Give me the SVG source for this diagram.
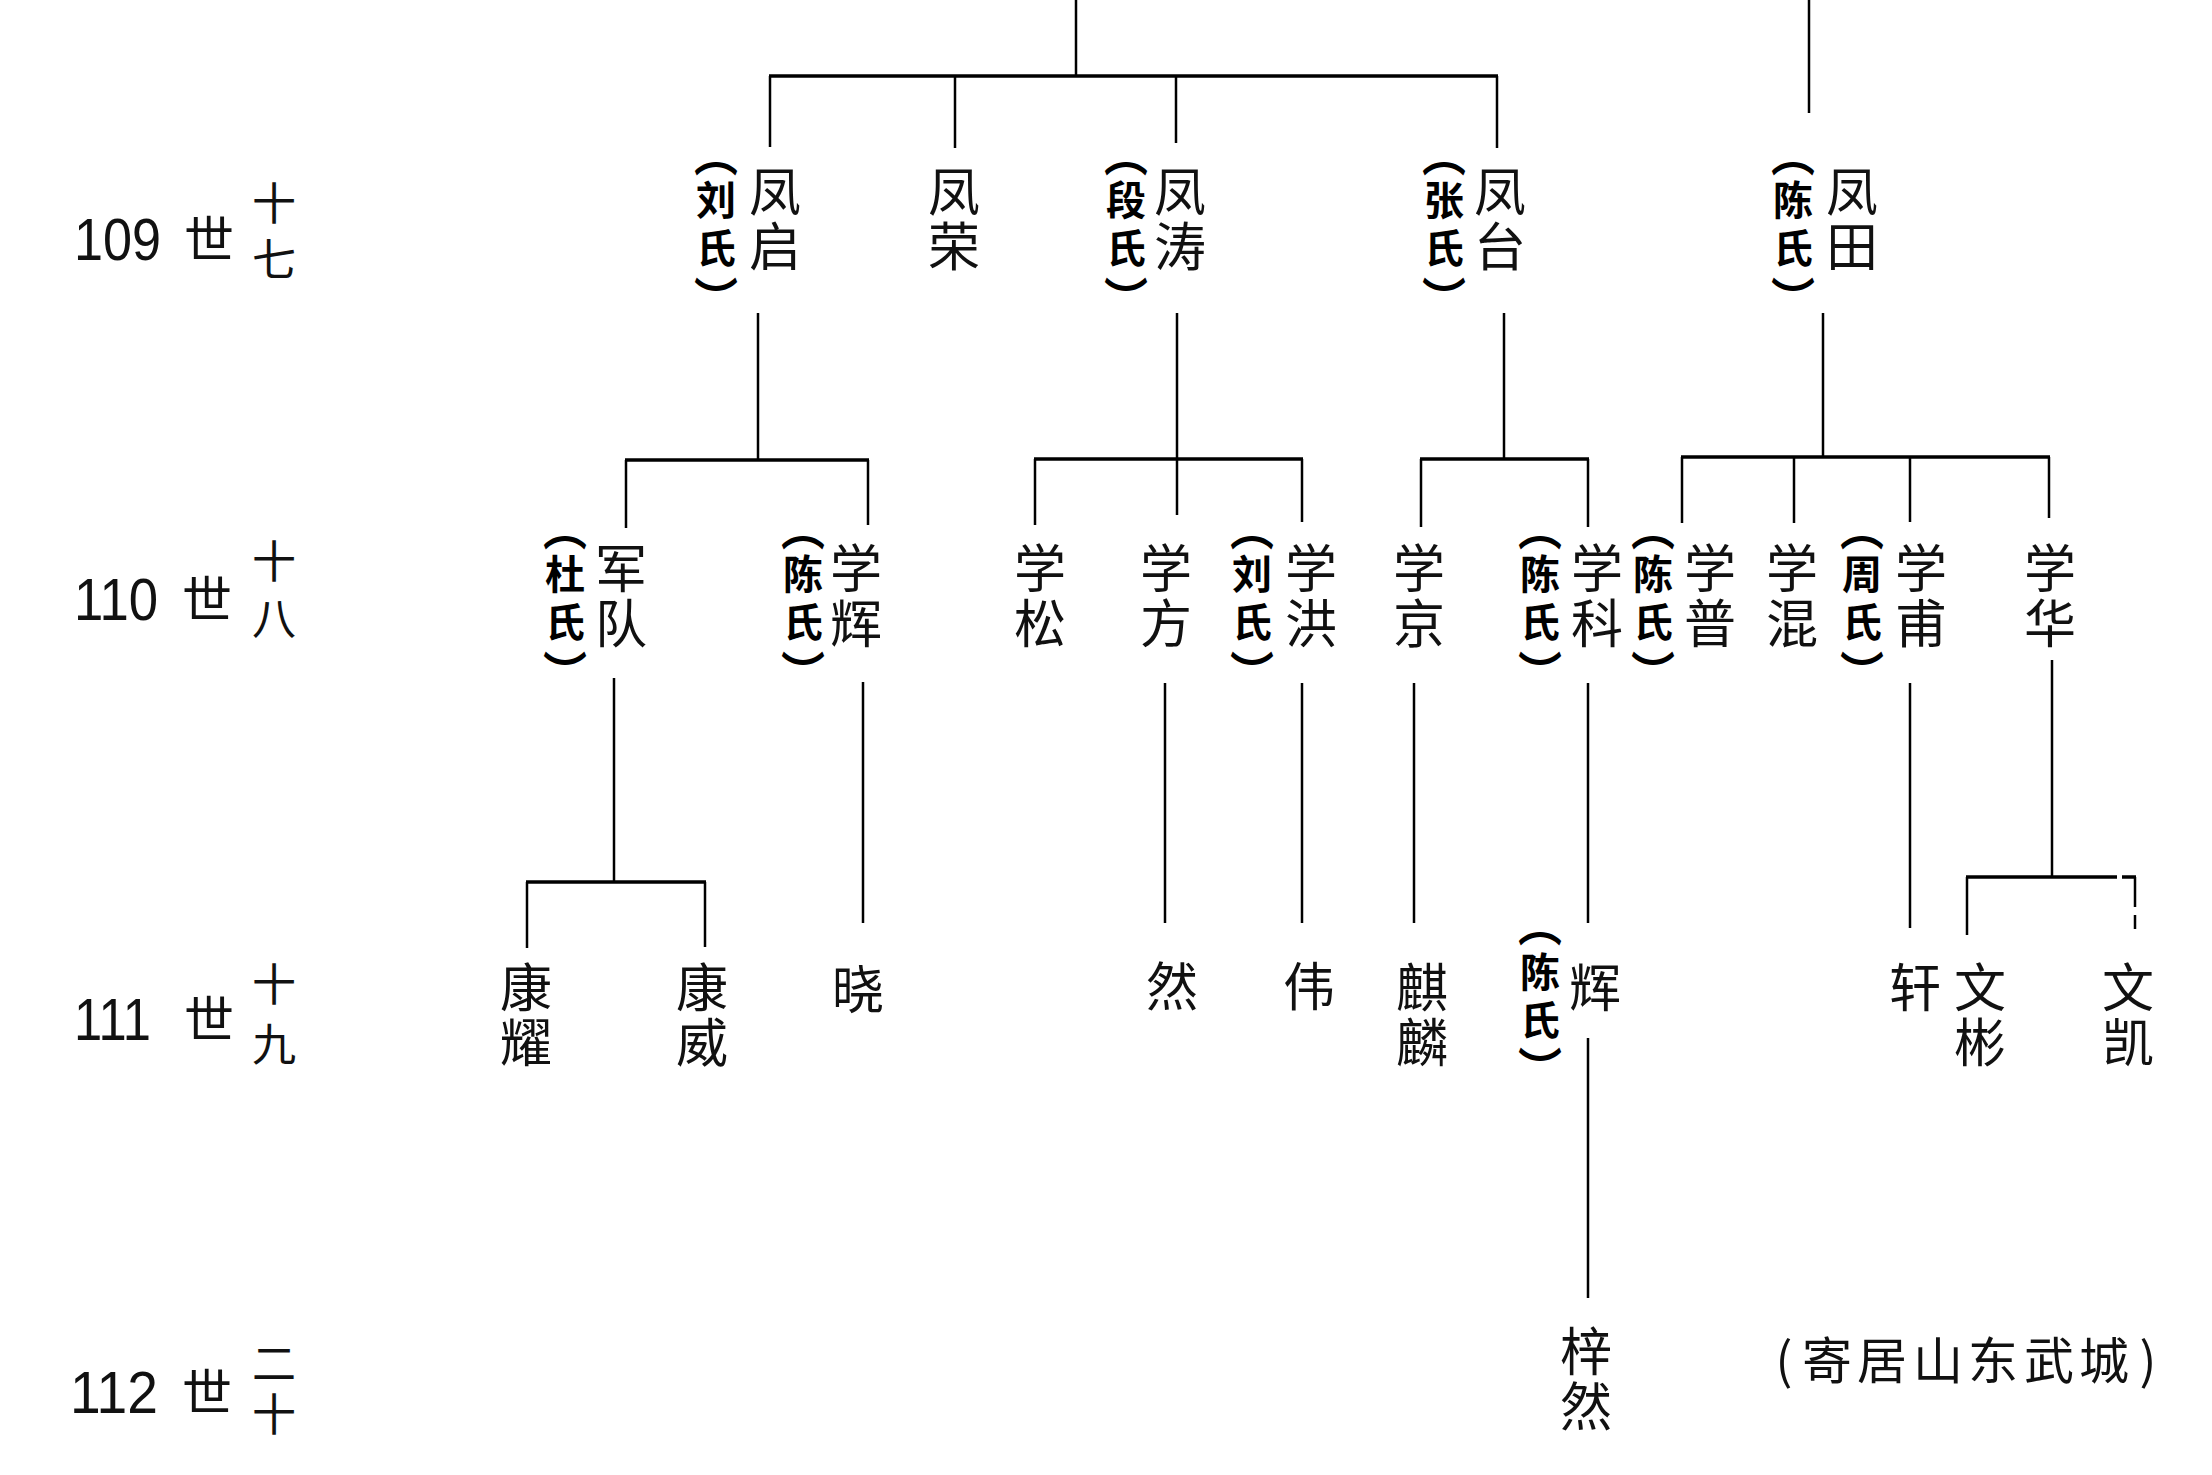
<svg xmlns="http://www.w3.org/2000/svg" width="2212" height="1475" viewBox="0 0 2212 1475">
<style>
.nm{font-family:"Noto Sans CJK SC","Noto Sans CJK TC",sans-serif;font-size:52px;text-anchor:middle;fill:#111}
.sp{font-family:"Noto Sans CJK SC",sans-serif;font-size:40px;font-weight:700;text-anchor:middle;fill:#000}
.br{font-family:"Noto Sans CJK SC",sans-serif;font-size:44px;font-weight:700;text-anchor:middle;fill:#000}
.gen{font-family:"Liberation Sans",Arial,sans-serif;font-size:60px;fill:#111}
.shi{font-family:"Noto Sans CJK SC",sans-serif;font-size:50px;fill:#111}
.ord{font-family:"Noto Sans CJK SC",sans-serif;font-size:44px;text-anchor:middle;fill:#111}
.note{font-family:"Noto Sans CJK SC",sans-serif;font-size:50px;text-anchor:middle;fill:#111}
.ln{stroke:#000;stroke-width:2.5;fill:none}
.bar{stroke:#000;stroke-width:3.5;fill:none}
</style>
<rect width="2212" height="1475" fill="#fff"/>

<g id="gen-labels">
  <g id="gen-109"><text class="gen" x="74" y="260" textLength="87" lengthAdjust="spacingAndGlyphs">109</text><text class="shi" x="184" y="258">世</text><text class="ord"><tspan x="274" y="220">十</tspan><tspan x="274" y="276">七</tspan></text></g>
  <g id="gen-110"><text class="gen" x="74" y="620" textLength="84" lengthAdjust="spacingAndGlyphs">110</text><text class="shi" x="182" y="618">世</text><text class="ord"><tspan x="274" y="578">十</tspan><tspan x="274" y="635">八</tspan></text></g>
  <g id="gen-111"><text class="gen" x="74" y="1040" textLength="77" lengthAdjust="spacingAndGlyphs">111</text><text class="shi" x="184" y="1038">世</text><text class="ord"><tspan x="274" y="1001">十</tspan><tspan x="274" y="1061">九</tspan></text></g>
  <g id="gen-112"><text class="gen" x="70" y="1413" textLength="88" lengthAdjust="spacingAndGlyphs">112</text><text class="shi" x="182" y="1411">世</text><text class="ord"><tspan x="274" y="1380">二</tspan><tspan x="274" y="1431">十</tspan></text></g>
</g>

<g id="connectors">
  <line class="ln" x1="1076" y1="0" x2="1076" y2="76"/>
  <line class="bar" x1="769" y1="76" x2="1498" y2="76"/>
  <line class="ln" x1="770" y1="76" x2="770" y2="147"/>
  <line class="ln" x1="955" y1="76" x2="955" y2="148"/>
  <line class="ln" x1="1176" y1="76" x2="1176" y2="143"/>
  <line class="ln" x1="1497" y1="76" x2="1497" y2="148"/>
  <line class="ln" x1="1809" y1="0" x2="1809" y2="113"/>

  <line class="ln" x1="758" y1="313" x2="758" y2="460"/>
  <line class="bar" x1="625" y1="460" x2="869" y2="460"/>
  <line class="ln" x1="626" y1="460" x2="626" y2="528"/>
  <line class="ln" x1="868" y1="460" x2="868" y2="525"/>

  <line class="ln" x1="1177" y1="313" x2="1177" y2="515"/>
  <line class="bar" x1="1034" y1="459" x2="1303" y2="459"/>
  <line class="ln" x1="1035" y1="459" x2="1035" y2="525"/>
  <line class="ln" x1="1302" y1="459" x2="1302" y2="522"/>

  <line class="ln" x1="1504" y1="313" x2="1504" y2="459"/>
  <line class="bar" x1="1420" y1="459" x2="1589" y2="459"/>
  <line class="ln" x1="1421" y1="459" x2="1421" y2="527"/>
  <line class="ln" x1="1588" y1="459" x2="1588" y2="527"/>

  <line class="ln" x1="1823" y1="313" x2="1823" y2="457"/>
  <line class="bar" x1="1681" y1="457" x2="2050" y2="457"/>
  <line class="ln" x1="1682" y1="457" x2="1682" y2="523"/>
  <line class="ln" x1="1794" y1="457" x2="1794" y2="523"/>
  <line class="ln" x1="1910" y1="457" x2="1910" y2="522"/>
  <line class="ln" x1="2049" y1="457" x2="2049" y2="518"/>

  <line class="ln" x1="614" y1="678" x2="614" y2="882"/>
  <line class="bar" x1="526" y1="882" x2="706" y2="882"/>
  <line class="ln" x1="527" y1="882" x2="527" y2="948"/>
  <line class="ln" x1="705" y1="882" x2="705" y2="947"/>
  <line class="ln" x1="863" y1="682" x2="863" y2="923"/>
  <line class="ln" x1="1165" y1="683" x2="1165" y2="923"/>
  <line class="ln" x1="1302" y1="683" x2="1302" y2="923"/>
  <line class="ln" x1="1414" y1="683" x2="1414" y2="923"/>
  <line class="ln" x1="1588" y1="683" x2="1588" y2="923"/>
  <line class="ln" x1="1910" y1="683" x2="1910" y2="928"/>
  <line class="ln" x1="2052" y1="660" x2="2052" y2="877"/>
  <line class="bar" x1="1966" y1="877" x2="2117" y2="877"/>
  <line class="bar" x1="2122" y1="877" x2="2136" y2="877"/>
  <line class="ln" x1="1967" y1="877" x2="1967" y2="935"/>
  <line class="ln" x1="2135" y1="877" x2="2135" y2="907"/>
  <line class="ln" x1="2135" y1="915" x2="2135" y2="929"/>

  <line class="ln" x1="1588" y1="1038" x2="1588" y2="1298"/>
</g>

<g id="node-fengqi"><text class="br" x="716" y="172">︵</text><text class="sp"><tspan x="716" y="215">刘</tspan><tspan x="716" y="263">氏</tspan></text><text class="br" x="716" y="315">︶</text><text class="nm"><tspan x="775" y="211">凤</tspan><tspan x="775" y="266">启</tspan></text></g>
<g id="node-fengrong"><text class="nm"><tspan x="954" y="211">凤</tspan><tspan x="954" y="266">荣</tspan></text></g>
<g id="node-fengtao"><text class="br" x="1126" y="172">︵</text><text class="sp"><tspan x="1126" y="215">段</tspan><tspan x="1126" y="263">氏</tspan></text><text class="br" x="1126" y="315">︶</text><text class="nm"><tspan x="1180" y="211">凤</tspan><tspan x="1180" y="266">涛</tspan></text></g>
<g id="node-fengtai"><text class="br" x="1444" y="172">︵</text><text class="sp"><tspan x="1444" y="215">张</tspan><tspan x="1444" y="263">氏</tspan></text><text class="br" x="1444" y="315">︶</text><text class="nm"><tspan x="1500" y="211">凤</tspan><tspan x="1500" y="266">台</tspan></text></g>
<g id="node-fengtian"><text class="br" x="1793" y="172">︵</text><text class="sp"><tspan x="1793" y="215">陈</tspan><tspan x="1793" y="263">氏</tspan></text><text class="br" x="1793" y="315">︶</text><text class="nm"><tspan x="1852" y="211">凤</tspan><tspan x="1852" y="266">田</tspan></text></g>

<g id="node-jundui"><text class="br" x="565" y="546">︵</text><text class="sp"><tspan x="565" y="589">杜</tspan><tspan x="565" y="637">氏</tspan></text><text class="br" x="565" y="689">︶</text><text class="nm"><tspan x="621" y="588">军</tspan><tspan x="621" y="643">队</tspan></text></g>
<g id="node-xuehui"><text class="br" x="803" y="546">︵</text><text class="sp"><tspan x="803" y="589">陈</tspan><tspan x="803" y="637">氏</tspan></text><text class="br" x="803" y="689">︶</text><text class="nm"><tspan x="856" y="588">学</tspan><tspan x="856" y="643">辉</tspan></text></g>
<g id="node-xuesong"><text class="nm"><tspan x="1040" y="588">学</tspan><tspan x="1040" y="643">松</tspan></text></g>
<g id="node-xuefang"><text class="nm"><tspan x="1166" y="588">学</tspan><tspan x="1166" y="643">方</tspan></text></g>
<g id="node-xuehong"><text class="br" x="1252" y="546">︵</text><text class="sp"><tspan x="1252" y="589">刘</tspan><tspan x="1252" y="637">氏</tspan></text><text class="br" x="1252" y="689">︶</text><text class="nm"><tspan x="1311" y="588">学</tspan><tspan x="1311" y="643">洪</tspan></text></g>
<g id="node-xuejing"><text class="nm"><tspan x="1419" y="588">学</tspan><tspan x="1419" y="643">京</tspan></text></g>
<g id="node-xueke"><text class="br" x="1540" y="546">︵</text><text class="sp"><tspan x="1540" y="589">陈</tspan><tspan x="1540" y="637">氏</tspan></text><text class="br" x="1540" y="689">︶</text><text class="nm"><tspan x="1597" y="588">学</tspan><tspan x="1597" y="643">科</tspan></text></g>
<g id="node-xuepu"><text class="br" x="1653" y="546">︵</text><text class="sp"><tspan x="1653" y="589">陈</tspan><tspan x="1653" y="637">氏</tspan></text><text class="br" x="1653" y="689">︶</text><text class="nm"><tspan x="1710" y="588">学</tspan><tspan x="1710" y="643">普</tspan></text></g>
<g id="node-xuehun"><text class="nm"><tspan x="1792" y="588">学</tspan><tspan x="1792" y="643">混</tspan></text></g>
<g id="node-xuefu"><text class="br" x="1862" y="546">︵</text><text class="sp"><tspan x="1862" y="589">周</tspan><tspan x="1862" y="637">氏</tspan></text><text class="br" x="1862" y="689">︶</text><text class="nm"><tspan x="1921" y="588">学</tspan><tspan x="1921" y="643">甫</tspan></text></g>
<g id="node-xuehua"><text class="nm"><tspan x="2050" y="588">学</tspan><tspan x="2050" y="643">华</tspan></text></g>

<g id="node-kangyao"><text class="nm"><tspan x="526" y="1007">康</tspan><tspan x="526" y="1062">耀</tspan></text></g>
<g id="node-kangwei"><text class="nm"><tspan x="702" y="1007">康</tspan><tspan x="702" y="1062">威</tspan></text></g>
<g id="node-xiao"><text class="nm" x="858" y="1009">晓</text></g>
<g id="node-ran"><text class="nm" x="1172" y="1006">然</text></g>
<g id="node-wei"><text class="nm" x="1309" y="1006">伟</text></g>
<g id="node-qilin"><text class="nm"><tspan x="1422" y="1007">麒</tspan><tspan x="1422" y="1062">麟</tspan></text></g>
<g id="node-hui"><text class="br" x="1540" y="942">︵</text><text class="sp"><tspan x="1540" y="987">陈</tspan><tspan x="1540" y="1035">氏</tspan></text><text class="br" x="1540" y="1085">︶</text><text class="nm" x="1595" y="1007">辉</text></g>
<g id="node-xuan"><text class="nm" x="1915" y="1007">轩</text></g>
<g id="node-wenbin"><text class="nm"><tspan x="1980" y="1007">文</tspan><tspan x="1980" y="1062">彬</tspan></text></g>
<g id="node-wenkai"><text class="nm"><tspan x="2128" y="1007">文</tspan><tspan x="2128" y="1062">凯</tspan></text></g>

<g id="node-ziran"><text class="nm"><tspan x="1586" y="1371">梓</tspan><tspan x="1586" y="1426">然</tspan></text></g>
<g id="note-shandong"><text class="note" y="1379"><tspan x="1784">(</tspan><tspan x="1827">寄</tspan><tspan x="1882">居</tspan><tspan x="1938">山</tspan><tspan x="1993">东</tspan><tspan x="2049">武</tspan><tspan x="2104">城</tspan><tspan x="2148">)</tspan></text></g>
</svg>
